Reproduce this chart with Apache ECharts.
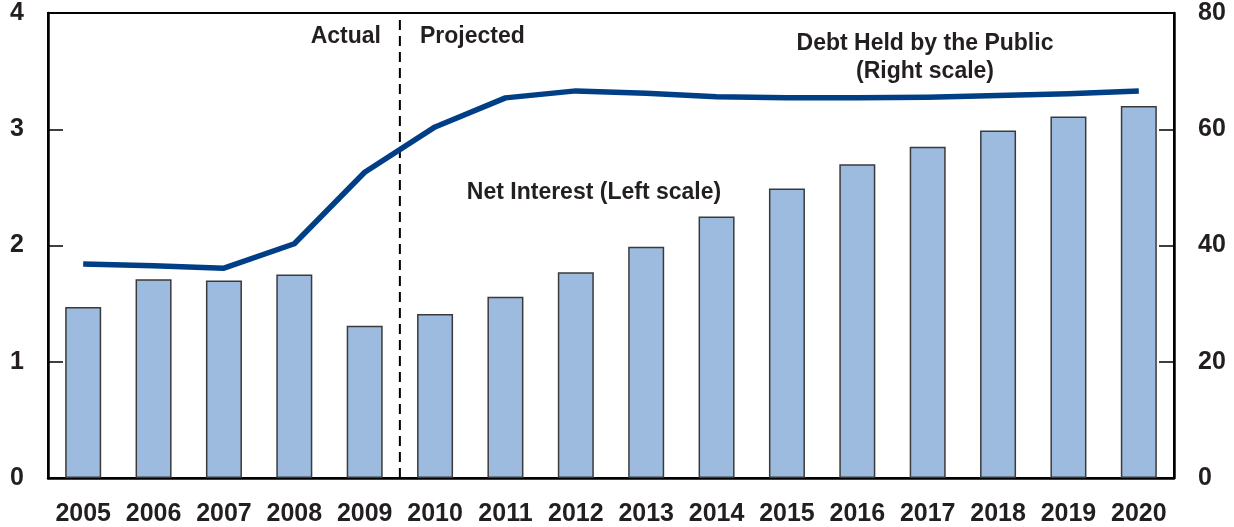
<!DOCTYPE html>
<html>
<head>
<meta charset="utf-8">
<script src="https://cdn.jsdelivr.net/npm/echarts@6/dist/echarts.min.js"></script>
<style>
  html, body { margin: 0; padding: 0; background: #fff; }
  #chart { width: 1234px; height: 527px; }
</style>
</head>
<body>
<div id="chart"></div>
<script>
// years on the category axis
var years = ['2005', '2006', '2007', '2008', '2009', '2010', '2011', '2012',
  '2013', '2014', '2015', '2016', '2017', '2018', '2019', '2020'];
// net interest, left scale
var netInterest = [1.47, 1.71, 1.70, 1.75, 1.31, 1.41, 1.56, 1.77,
  1.99, 2.25, 2.49, 2.70, 2.85, 2.99, 3.11, 3.20];
// debt held by the public, right scale
var debtHeld = [36.8, 36.5, 36.1, 40.3, 52.6, 60.4, 65.4, 66.6,
  66.2, 65.6, 65.4, 65.4, 65.5, 65.8, 66.1, 66.6];
// actual / projected divider sits between 2009 and 2010
var dividerAt = 4.5;

var font = '"Liberation Sans", Arial, sans-serif';
var ink = '#231f20';

var myChart = echarts.init(document.getElementById('chart'));

myChart.setOption({
  animation: false,
  grid: {
    left: 48,
    right: 60,
    top: 13,
    bottom: 49,
    show: true,
    borderColor: '#000',
    borderWidth: 2
  },
  xAxis: [
    {
      type: 'category',
      data: years,
      axisLine: { lineStyle: { color: '#000', width: 2.5 } },
      axisTick: { show: false },
      axisLabel: {
        color: ink, fontFamily: font, fontWeight: 'bold', fontSize: 25,
        margin: 24, interval: 0
      }
    },
    {
      // hidden value axis so the divider lands between two categories
      type: 'value',
      min: -0.5,
      max: 15.5,
      show: false
    }
  ],
  yAxis: [
    {
      type: 'value',
      min: 0,
      max: 4,
      interval: 1,
      axisLine: { show: true, onZero: false, lineStyle: { color: '#000', width: 2.5 } },
      axisTick: { show: true, inside: true, length: 15, lineStyle: { color: '#000', width: 1.5 } },
      splitLine: { show: false },
      axisLabel: {
        color: ink, fontFamily: font, fontWeight: 'bold', fontSize: 25, margin: 24,
        padding: [8, 0, 0, 0]
      }
    },
    {
      type: 'value',
      min: 0,
      max: 80,
      interval: 20,
      position: 'right',
      axisLine: { show: true, onZero: false, lineStyle: { color: '#000', width: 2.5 } },
      axisTick: { show: true, inside: true, length: 15, lineStyle: { color: '#000', width: 1.5 } },
      splitLine: { show: false },
      axisLabel: {
        color: ink, fontFamily: font, fontWeight: 'bold', fontSize: 25, margin: 24,
        padding: [8, 0, 0, 0]
      }
    }
  ],
  series: [
    {
      name: 'Net Interest',
      type: 'bar',
      data: netInterest,
      barWidth: 36,
      itemStyle: { color: '#9dbbdf', borderColor: '#3a3a3a', borderWidth: 1.5 }
    },
    {
      name: 'Debt Held by the Public',
      type: 'line',
      yAxisIndex: 1,
      data: debtHeld,
      symbol: 'none',
      z: 5,
      lineStyle: { color: '#003e85', width: 5.5, join: 'round', cap: 'butt' }
    },
    {
      name: 'divider',
      type: 'line',
      xAxisIndex: 1,
      data: [[dividerAt, 0], [dividerAt, 4]],
      symbol: 'none',
      silent: true,
      lineStyle: { color: '#000', width: 2, type: [10, 6] }
    }
  ],
  graphic: [
    {
      type: 'text', x: 381, y: 37,
      style: { text: 'Actual', fill: ink, font: 'bold 23px ' + font, align: 'right', verticalAlign: 'middle' }
    },
    {
      type: 'text', x: 420, y: 37,
      style: { text: 'Projected', fill: ink, font: 'bold 23px ' + font, align: 'left', verticalAlign: 'middle' }
    },
    {
      type: 'text', x: 925, y: 44,
      style: { text: 'Debt Held by the Public', fill: ink, font: 'bold 23px ' + font, align: 'center', verticalAlign: 'middle' }
    },
    {
      type: 'text', x: 925, y: 72,
      style: { text: '(Right scale)', fill: ink, font: 'bold 23px ' + font, align: 'center', verticalAlign: 'middle' }
    },
    {
      type: 'text', x: 594, y: 193,
      style: { text: 'Net Interest (Left scale)', fill: ink, font: 'bold 23px ' + font, align: 'center', verticalAlign: 'middle' }
    }
  ]
});
</script>
</body>
</html>
